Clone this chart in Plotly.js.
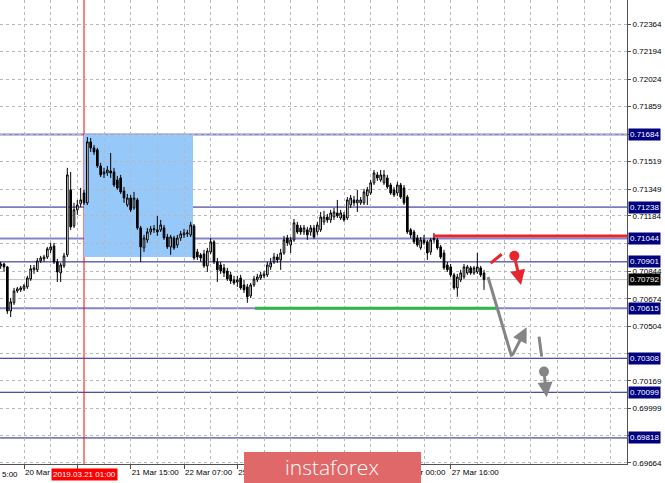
<!DOCTYPE html>
<html>
<head>
<meta charset="utf-8">
<script src="https://cdn.plot.ly/plotly-3.0.1.min.js"></script>
<style>html,body{margin:0;padding:0;background:#fff;}#chart{width:665px;height:483px;}</style>
</head>
<body>
<div id="chart"></div>
<script>
// AUDUSD H1 candles, first bar index = -7 (bar 0 = 20 Mar 07:00)
const firstBar = -7;
const open = [
0.70876,0.70888,0.70870,0.70599,0.70649,0.70722,0.70729,0.70735,0.70747,0.70796,
0.70852,0.70852,0.70907,0.70919,0.70931,0.70975,0.70999,0.70901,0.70833,0.70876,
0.70944,0.71344,0.71122,0.71221,0.71258,0.71325,0.71264,0.71639,0.71602,0.71590,
0.71491,0.71442,0.71448,0.71460,0.71454,0.71405,0.71417,0.71337,0.71251,0.71294,
0.71233,0.71282,0.71110,0.70987,0.71036,0.71085,0.71098,0.71098,0.71098,0.71110,
0.71054,0.70993,0.71048,0.71005,0.71048,0.71067,0.71073,0.71067,0.71122,0.70962,
0.70944,0.70950,0.70876,0.70962,0.71024,0.70901,0.70882,0.70864,0.70845,0.70821,
0.70790,0.70777,0.70802,0.70759,0.70747,0.70692,0.70759,0.70790,0.70802,0.70815,
0.70821,0.70870,0.70901,0.70931,0.70913,0.70956,0.71048,0.71005,0.71036,0.71128,
0.71110,0.71085,0.71098,0.71085,0.71110,0.71085,0.71098,0.71147,0.71177,0.71159,
0.71177,0.71202,0.71171,0.71190,0.71171,0.71251,0.71282,0.71264,0.71264,0.71264,
0.71307,0.71325,0.71387,0.71436,0.71405,0.71387,0.71417,0.71374,0.71344,0.71325,
0.71374,0.71356,0.71300,0.71098,0.71085,0.71048,0.70987,0.71036,0.71024,0.70962,
0.71036,0.71036,0.70993,0.70956,0.70882,0.70870,0.70821,0.70741,0.70790,0.70808,
0.70833,0.70864,0.70833,0.70839,0.70864,0.70833];
const high = [
0.70901,0.70895,0.70876,0.70679,0.70741,0.70747,0.70753,0.70765,0.70815,0.70882,
0.70882,0.70925,0.70938,0.70944,0.70993,0.71018,0.71018,0.70919,0.70895,0.70956,
0.71479,0.71454,0.71264,0.71282,0.71356,0.71344,0.71669,0.71663,0.71620,0.71602,
0.71510,0.71479,0.71491,0.71571,0.71479,0.71430,0.71436,0.71362,0.71319,0.71313,
0.71331,0.71294,0.71122,0.71067,0.71110,0.71122,0.71128,0.71184,0.71159,0.71128,
0.71073,0.71067,0.71061,0.71067,0.71091,0.71104,0.71098,0.71147,0.71134,0.70981,
0.70956,0.70975,0.70987,0.71048,0.71036,0.70925,0.70901,0.70888,0.70864,0.70839,
0.70815,0.70815,0.70821,0.70790,0.70765,0.70771,0.70815,0.70827,0.70839,0.70845,
0.70901,0.70925,0.70956,0.70950,0.70981,0.71061,0.71067,0.71054,0.71165,0.71147,
0.71128,0.71128,0.71116,0.71128,0.71128,0.71147,0.71208,0.71215,0.71196,0.71221,
0.71233,0.71282,0.71221,0.71208,0.71300,0.71313,0.71307,0.71344,0.71300,0.71350,
0.71362,0.71405,0.71466,0.71454,0.71466,0.71466,0.71436,0.71387,0.71362,0.71393,
0.71387,0.71374,0.71313,0.71110,0.71098,0.71067,0.71054,0.71067,0.71036,0.71048,
0.71079,0.71048,0.71005,0.70975,0.70901,0.70888,0.70833,0.70827,0.70852,0.70888,
0.70882,0.70876,0.70876,0.70956,0.70876,0.70852];
const low = [
0.70858,0.70839,0.70581,0.70562,0.70636,0.70710,0.70716,0.70722,0.70735,0.70784,
0.70827,0.70839,0.70895,0.70901,0.70919,0.70956,0.70888,0.70777,0.70777,0.70864,
0.70931,0.71098,0.71110,0.71190,0.71239,0.71251,0.71251,0.71577,0.71559,0.71479,
0.71423,0.71417,0.71430,0.71417,0.71362,0.71344,0.71319,0.71264,0.71239,0.71208,
0.71221,0.71098,0.70901,0.70962,0.71018,0.71067,0.71079,0.71061,0.71085,0.71036,
0.70981,0.70944,0.70975,0.70987,0.71030,0.71048,0.71054,0.71054,0.70913,0.70913,
0.70901,0.70864,0.70839,0.70950,0.70888,0.70777,0.70827,0.70808,0.70784,0.70765,
0.70759,0.70747,0.70729,0.70710,0.70649,0.70679,0.70747,0.70777,0.70790,0.70802,
0.70808,0.70852,0.70888,0.70895,0.70852,0.70944,0.70999,0.70956,0.71024,0.71073,
0.71067,0.71067,0.71036,0.71061,0.71042,0.71067,0.71085,0.71128,0.71141,0.71141,
0.71159,0.71171,0.71159,0.71147,0.71159,0.71233,0.71245,0.71208,0.71251,0.71251,
0.71251,0.71313,0.71374,0.71399,0.71393,0.71374,0.71350,0.71313,0.71300,0.71307,
0.71288,0.71251,0.71073,0.71048,0.71011,0.70993,0.70975,0.71005,0.70913,0.70944,
0.71018,0.70975,0.70919,0.70852,0.70839,0.70808,0.70729,0.70686,0.70777,0.70796,
0.70821,0.70821,0.70821,0.70827,0.70808,0.70729];
const close = [
0.70888,0.70870,0.70599,0.70655,0.70722,0.70735,0.70741,0.70753,0.70802,0.70858,
0.70864,0.70907,0.70925,0.70931,0.70981,0.70993,0.70901,0.70839,0.70882,0.70938,
0.71436,0.71116,0.71221,0.71251,0.71282,0.71264,0.71639,0.71602,0.71577,0.71491,
0.71436,0.71454,0.71466,0.71448,0.71374,0.71356,0.71331,0.71294,0.71294,0.71221,
0.71294,0.71110,0.70993,0.71048,0.71085,0.71104,0.71104,0.71085,0.71128,0.71048,
0.70993,0.71054,0.70987,0.71048,0.71073,0.71079,0.71079,0.71128,0.70925,0.70931,
0.70925,0.70876,0.70968,0.71024,0.70901,0.70852,0.70845,0.70833,0.70796,0.70784,
0.70771,0.70790,0.70741,0.70729,0.70686,0.70759,0.70796,0.70808,0.70821,0.70827,
0.70882,0.70895,0.70931,0.70913,0.70956,0.71036,0.71018,0.71036,0.71141,0.71085,
0.71085,0.71110,0.71067,0.71110,0.71054,0.71128,0.71177,0.71177,0.71159,0.71202,
0.71208,0.71184,0.71202,0.71159,0.71282,0.71294,0.71264,0.71282,0.71282,0.71331,
0.71344,0.71387,0.71448,0.71417,0.71436,0.71436,0.71362,0.71325,0.71313,0.71374,
0.71300,0.71264,0.71085,0.71067,0.71024,0.71005,0.71036,0.71018,0.70956,0.71036,
0.71048,0.70987,0.70931,0.70864,0.70852,0.70821,0.70741,0.70808,0.70833,0.70870,
0.70870,0.70833,0.70864,0.70870,0.70821,0.70792];

// time axis labels (bar index -> visible label text; covered parts left out)
const timeTickIdx  = [0, 16, 32, 48, 64, 80, 96, 112, 128];
const timeTickText = ["20 Mar","","21 Mar 15:00","22 Mar 07:00","25 Mar 00:00","","","27 Mar 00:00","27 Mar 16:00"];
// price axis labels (labels hidden behind level boxes are blank)
const priceTicks = [0.72364,0.72194,0.72024,0.71859,0.71684,0.71519,0.71349,0.71184,0.71014,0.70844,0.70674,0.70504,0.70339,0.70169,0.69999,0.69834,0.69664];
const priceTickText = ["0.72364","0.72194","0.72024","0.71859","","0.71519","0.71349","0.71184","","0.70844","0.70674","0.70504","","0.70169","0.69999","","0.69664"];
// analyst levels
const strongLevels = [0.71684, 0.71044, 0.70615];
const thinLevels   = [0.71238, 0.70901, 0.70308, 0.70099, 0.69818];
const bidPrice = 0.70792;
const markerBar = 18;               // 2019.03.21 01:00
const markerLabel = "2019.03.21 01:00";
const zoneBars = [18, 50.7];
const zonePrices = [0.70931, 0.71684];
const resistance = {bars:[122.7, 181], price:0.71060};
const support = {bars:[69.3, 141.6], price:0.70615};

const x = open.map((_, k) => firstBar + k);

const trace = {
  type: 'candlestick', x: x, open: open, high: high, low: low, close: close,
  increasing: {line: {color: '#000000', width: 1}, fillcolor: '#ffffff'},
  decreasing: {line: {color: '#000000', width: 1}, fillcolor: '#000000'},
  whiskerwidth: 0, hoverinfo: 'skip'
};

const gridCol = '#b8b8b8';
const shapes = [];
shapes.push({type:'rect', xref:'x', yref:'y', x0:zoneBars[0], x1:zoneBars[1], y0:zonePrices[0], y1:zonePrices[1],
  fillcolor:'rgb(150,200,250)', line:{width:0}, layer:'below'});
shapes.push({type:'line', xref:'paper', yref:'y', x0:0, x1:1, y0:bidPrice, y1:bidPrice, line:{color:'#c0c0c0', width:1}, layer:'between'});
strongLevels.forEach(v => shapes.push({type:'line', xref:'paper', yref:'y', x0:0, x1:1, y0:v, y1:v, line:{color:'#8484cc', width:2}, layer:'between'}));
thinLevels.forEach(v => shapes.push({type:'line', xref:'paper', yref:'y', x0:0, x1:1, y0:v, y1:v, line:{color:'#1a1a88', width:1}, layer:'between'}));
shapes.push({type:'line', xref:'x', yref:'paper', x0:markerBar, x1:markerBar, y0:0, y1:1, line:{color:'#ff0000', width:1}, layer:'between'});
shapes.push({type:'line', xref:'x', yref:'y', x0:resistance.bars[0], x1:resistance.bars[1], y0:resistance.price, y1:resistance.price, line:{color:'#e8242c', width:3}, layer:'above'});
shapes.push({type:'line', xref:'x', yref:'y', x0:support.bars[0], x1:support.bars[1], y0:support.price, y1:support.price, line:{color:'#33b347', width:3}, layer:'above'});
// forecast strokes
const gray = '#858585', red = '#e8242c';
shapes.push({type:'line', xref:'x', yref:'y', x0:139.2, y0:0.70808, x1:146.3, y1:0.70318, line:{color:gray, width:3}, layer:'above'});
shapes.push({type:'line', xref:'x', yref:'y', x0:154.5, y0:0.70441, x1:155.3, y1:0.70318, line:{color:gray, width:3}, layer:'above'});
shapes.push({type:'line', xref:'x', yref:'y', x0:140.0, y0:0.70893, x1:143.3, y1:0.70948, line:{color:red, width:3}, layer:'above'});
shapes.push({type:'circle', xref:'x', yref:'y', xsizemode:'pixel', ysizemode:'pixel', xanchor:147.1, yanchor:0.70938, x0:-5, x1:5, y0:-5, y1:5, fillcolor:red, line:{width:0}, layer:'above'});
shapes.push({type:'circle', xref:'x', yref:'y', xsizemode:'pixel', ysizemode:'pixel', xanchor:156.0, yanchor:0.70226, x0:-5, x1:5, y0:-5, y1:5, fillcolor:gray, line:{width:0}, layer:'above'});
// banner
shapes.push({type:'rect', xref:'paper', yref:'paper', x0:0.3892, x1:0.6715, y0:0.0259, y1:-0.045, fillcolor:'#e06868', line:{width:0}, layer:'above'});

const annotations = [];
function arrow(hx, hy, tx, ty, col){
  annotations.push({xref:'x', yref:'y', axref:'x', ayref:'y', x:hx, y:hy, ax:tx, ay:ty, text:'', showarrow:true,
    arrowhead:2, arrowsize:1, arrowwidth:3, arrowcolor:col, standoff:0, startstandoff:0});
}
arrow(150.8, 0.70499, 146.3, 0.70318, gray);
arrow(156.8, 0.70069, 156.0, 0.70226, gray);
arrow(149.1, 0.70759, 147.3, 0.70920, red);

strongLevels.concat(thinLevels).forEach(v => annotations.push({xref:'paper', yref:'y', x:1, y:v, xanchor:'left', yanchor:'middle', xshift:1,
  text:v.toFixed(5), showarrow:false, bgcolor:'#00007f', borderpad:1, font:{color:'#ffffff', size:8}}));
annotations.push({xref:'paper', yref:'y', x:1, y:bidPrice, xanchor:'left', yanchor:'middle', xshift:1,
  text:bidPrice.toFixed(5), showarrow:false, bgcolor:'#000000', borderpad:1, font:{color:'#ffffff', size:8}});
annotations.push({xref:'x', yref:'paper', x:markerBar, y:0, xanchor:'center', yanchor:'top', yshift:-4,
  text:markerLabel, showarrow:false, bgcolor:'#ff0000', borderpad:1, font:{color:'#ffffff', size:8}});
annotations.push({xref:'paper', yref:'paper', x:0, y:0, xanchor:'left', yanchor:'top', yshift:-4,
  text:'5:00', showarrow:false, font:{color:'#000000', size:8}});
annotations.push({xref:'paper', yref:'paper', x:0.5295, y:-0.006, xanchor:'center', yanchor:'middle',
  text:'instaforex', showarrow:false, font:{color:'#ffffff', size:21, family:'Open Sans, Lato, sans-serif', weight:300}});

const layout = {
  width: 665, height: 483,
  margin: {l:0, r:38, t:0, b:19, pad:0},
  paper_bgcolor:'#ffffff', plot_bgcolor:'#ffffff',
  showlegend:false, dragmode:false,
  font:{family:'Liberation Sans, Arial, sans-serif', size:8, color:'#000000'},
  xaxis:{range:[-7.2, 180.9], tickmode:'array', tickvals:timeTickIdx, ticktext:timeTickText, tickangle:0,
    ticks:'outside', ticklen:4, tickcolor:'#505050', ticklabelposition:'outside right',
    showgrid:true, gridcolor:gridCol, griddash:'3px,3px', gridwidth:1,
    showline:true, linecolor:'#505050', linewidth:1, zeroline:false,
    rangeslider:{visible:false}, fixedrange:true,
    minor:{tickmode:'linear', tick0:0, dtick:8, showgrid:true, gridcolor:gridCol, griddash:'3px,3px', ticklen:0}},
  yaxis:{side:'right', range:[0.696578, 0.725116], tickmode:'array', tickvals:priceTicks,
    ticktext:priceTickText, ticks:'outside', ticklen:3, tickcolor:'#505050',
    showgrid:true, gridcolor:gridCol, griddash:'3px,3px', gridwidth:1,
    showline:true, linecolor:'#505050', linewidth:1, zeroline:false, fixedrange:true},
  shapes: shapes, annotations: annotations
};

Plotly.newPlot('chart', [trace], layout, {displayModeBar:false, staticPlot:true});
</script>
</body>
</html>
